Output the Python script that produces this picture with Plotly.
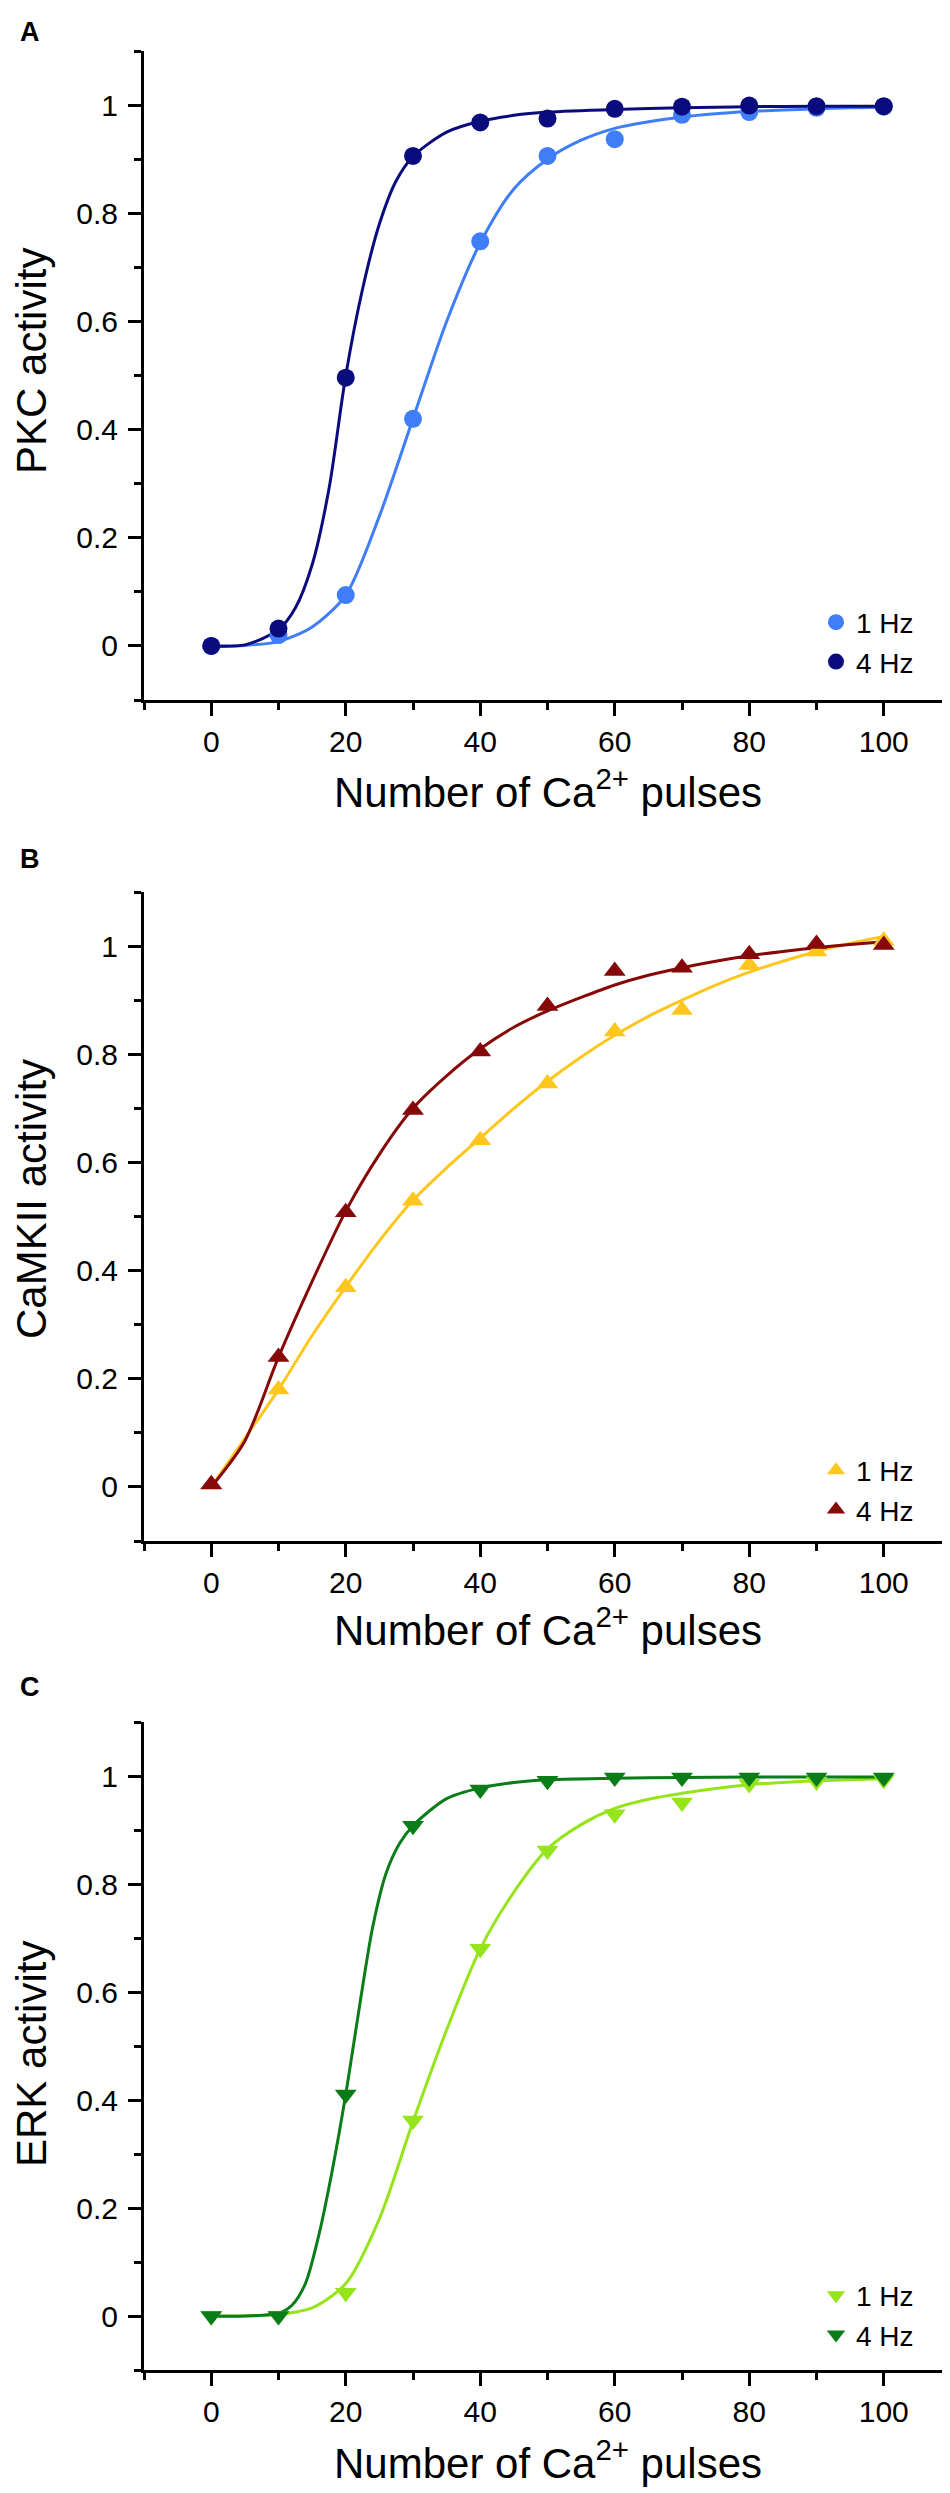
import plotly.graph_objects as go

W, H = 950, 2493

# ---------------- data ----------------
pulses = [0, 10, 20, 30, 40, 50, 60, 70, 80, 90, 100]

pkc_1hz = [0.0, 0.02, 0.094, 0.42, 0.748, 0.906, 0.937, 0.982, 0.987, 0.995, 0.997]
pkc_4hz = [0.0, 0.032, 0.496, 0.906, 0.968, 0.975, 0.993, 0.997, 0.999, 0.998, 0.998]

camk_1hz = [0.003, 0.18, 0.369, 0.529, 0.641, 0.746, 0.842, 0.882, 0.965, 0.99, 1.01]
camk_4hz = [0.005, 0.24, 0.508, 0.697, 0.805, 0.889, 0.954, 0.96, 0.985, 1.004, 1.002]

erk_1hz = [0.0, 0.0, 0.043, 0.362, 0.68, 0.862, 0.929, 0.951, 0.985, 0.99, 0.993]
erk_4hz = [0.0, 0.0, 0.41, 0.908, 0.975, 0.991, 0.997, 0.997, 0.997, 0.997, 0.997]

# fitted curves
fit_x5 = [0, 5, 10, 15, 20, 25, 30, 35, 40, 45, 50, 55, 60, 65, 70, 75, 80, 85, 90, 95, 100]

pkc_1hz_fit_x = fit_x5
pkc_1hz_fit_y = [0, 0.001, 0.008, 0.035, 0.094, 0.24, 0.42, 0.6, 0.745, 0.845, 0.9, 0.935,
                 0.957, 0.969, 0.978, 0.984, 0.988, 0.991, 0.993, 0.995, 0.996]
pkc_4hz_fit_x = [0, 5, 10, 12.5, 15, 17.5, 20, 22.5, 25, 27.5, 30, 35, 40, 45, 50, 60, 70, 80, 90, 100]
pkc_4hz_fit_y = [0, 0.002, 0.03, 0.07, 0.15, 0.29, 0.5, 0.66, 0.78, 0.86, 0.905, 0.95, 0.97,
                 0.981, 0.987, 0.992, 0.995, 0.997, 0.998, 0.998]

camk_1hz_fit_x = fit_x5
camk_1hz_fit_y = [0, 0.09, 0.18, 0.28, 0.37, 0.455, 0.53, 0.59, 0.645, 0.70, 0.75, 0.795,
                  0.835, 0.87, 0.90, 0.928, 0.952, 0.972, 0.99, 1.005, 1.018]
camk_4hz_fit_x = fit_x5
camk_4hz_fit_y = [0, 0.085, 0.24, 0.38, 0.51, 0.615, 0.70, 0.76, 0.81, 0.85, 0.88, 0.905,
                  0.928, 0.946, 0.96, 0.972, 0.982, 0.99, 0.997, 1.003, 1.008]

erk_1hz_fit_x = fit_x5
erk_1hz_fit_y = [0, 0, 0.003, 0.015, 0.06, 0.18, 0.36, 0.53, 0.68, 0.785, 0.865, 0.91,
                 0.94, 0.957, 0.968, 0.977, 0.984, 0.988, 0.991, 0.993, 0.995]
erk_4hz_fit_x = [0, 5, 10, 12, 14, 16, 18, 20, 22, 24, 26, 28, 30, 35, 40, 45, 50, 60, 70, 80, 90, 100]
erk_4hz_fit_y = [0, 0, 0.005, 0.02, 0.06, 0.15, 0.27, 0.41, 0.57, 0.72, 0.82, 0.875, 0.908,
                 0.958, 0.978, 0.988, 0.993, 0.996, 0.997, 0.998, 0.998, 0.998]

series_names = ["1 Hz", "4 Hz"]
y_titles = ["PKC activity", "CaMKII activity", "ERK activity"]
panel_letters = ["A", "B", "C"]
x_title = "Number of Ca<sup>2+</sup> pulses"
x_tickvals = [0, 20, 40, 60, 80, 100]
y_tickvals = [0, 0.2, 0.4, 0.6, 0.8, 1]
y_ticktext = ["0", "0.2", "0.4", "0.6", "0.8", "1"]

# ---------------- styles ----------------
FONT = "Liberation Sans, Arial, Helvetica, sans-serif"
panels = [
    dict(pts=(pkc_1hz, pkc_4hz),
         fits=((pkc_1hz_fit_x, pkc_1hz_fit_y), (pkc_4hz_fit_x, pkc_4hz_fit_y)),
         colors=("#3f7ef8", "#0a0c7e"), symbol="circle", msize=18,
         top=43, bottom=692, ytitle_y=353, xtitle_y=781, letter_y=24, legend_y=634),
    dict(pts=(camk_1hz, camk_4hz),
         fits=((camk_1hz_fit_x, camk_1hz_fit_y), (camk_4hz_fit_x, camk_4hz_fit_y)),
         colors=("#ffc61e", "#860808"), symbol="triangle-up", msize=19,
         top=884, bottom=1533, ytitle_y=1191, xtitle_y=1619, letter_y=851, legend_y=1482),
    dict(pts=(erk_1hz, erk_4hz),
         fits=((erk_1hz_fit_x, erk_1hz_fit_y), (erk_4hz_fit_x, erk_4hz_fit_y)),
         colors=("#96e41a", "#0a7d18"), symbol="triangle-down", msize=19,
         top=1714, bottom=2362, ytitle_y=2046, xtitle_y=2452, letter_y=1679, legend_y=2307),
]

X_LEFT, X_RIGHT = 136, 943


def fx(px):
    return px / W


def fy(py):
    return 1 - py / H


fig = go.Figure()
annotations = []
layout = {}

for i, p in enumerate(panels):
    n = i + 1
    xa = "x" if n == 1 else f"x{n}"
    ya = "y" if n == 1 else f"y{n}"
    leg = "legend" if n == 1 else f"legend{n}"

    # fitted curves
    for k in range(2):
        cx, cy = p["fits"][k]
        fig.add_trace(go.Scatter(
            x=cx, y=cy, mode="lines", xaxis=xa, yaxis=ya,
            line=dict(color=p["colors"][k], width=3, shape="spline", smoothing=0.8),
            showlegend=False, hoverinfo="skip"))
    # data points
    for k in range(2):
        fig.add_trace(go.Scatter(
            x=pulses, y=p["pts"][k], mode="markers", xaxis=xa, yaxis=ya,
            name=series_names[k], legend=leg,
            marker=dict(color=p["colors"][k], size=p["msize"], symbol=p["symbol"],
                        line=dict(width=0))))

    axis_common = dict(showline=True, linewidth=3, linecolor="black",
                       ticks="outside", ticklen=13, tickwidth=3, tickcolor="black",
                       showgrid=False, zeroline=False,
                       tickfont=dict(family=FONT, size=30, color="black"))
    layout["xaxis" if n == 1 else f"xaxis{n}"] = dict(
        axis_common, domain=[fx(X_LEFT), fx(X_RIGHT)], range=[-10, 110],
        anchor=ya, tickvals=x_tickvals, ticklabelstandoff=0,
        minor=dict(dtick=10, tick0=0, ticks="outside", ticklen=7, tickwidth=3,
                   tickcolor="black", showgrid=False))
    layout["yaxis" if n == 1 else f"yaxis{n}"] = dict(
        axis_common, domain=[fy(p["bottom"]), fy(p["top"])], range=[-0.1, 1.1],
        anchor=xa, tickvals=y_tickvals, ticktext=y_ticktext, ticklabelstandoff=4,
        minor=dict(dtick=0.1, tick0=0, ticks="outside", ticklen=7, tickwidth=3,
                   tickcolor="black", showgrid=False))
    layout[leg] = dict(x=fx(808), y=fy(p["legend_y"]), xanchor="left", yanchor="middle",
                       xref="paper", yref="paper", bgcolor="rgba(0,0,0,0)",
                       font=dict(family=FONT, size=28, color="black"),
                       itemsizing="trace", tracegroupgap=0)

    annotations.append(dict(text=y_titles[i], x=fx(23), y=fy(p["ytitle_y"]),
                            xref="paper", yref="paper", showarrow=False, textangle=-90,
                            xanchor="center", yanchor="middle",
                            font=dict(family=FONT, size=42, color="black")))
    annotations.append(dict(text=x_title, x=fx((X_LEFT + X_RIGHT) / 2), y=fy(p["xtitle_y"]),
                            xref="paper", yref="paper", showarrow=False,
                            xanchor="center", yanchor="middle",
                            font=dict(family=FONT, size=42, color="black")))
    annotations.append(dict(text="<b>" + panel_letters[i] + "</b>", x=fx(22), y=fy(p["letter_y"]),
                            xref="paper", yref="paper", showarrow=False,
                            xanchor="center", yanchor="middle",
                            font=dict(family=FONT, size=27, color="black")))

fig.update_layout(**layout)
fig.update_layout(width=W, height=H, margin=dict(l=0, r=0, t=0, b=0),
                  paper_bgcolor="white", plot_bgcolor="white",
                  annotations=annotations, showlegend=True)

fig.write_html("out.html")
